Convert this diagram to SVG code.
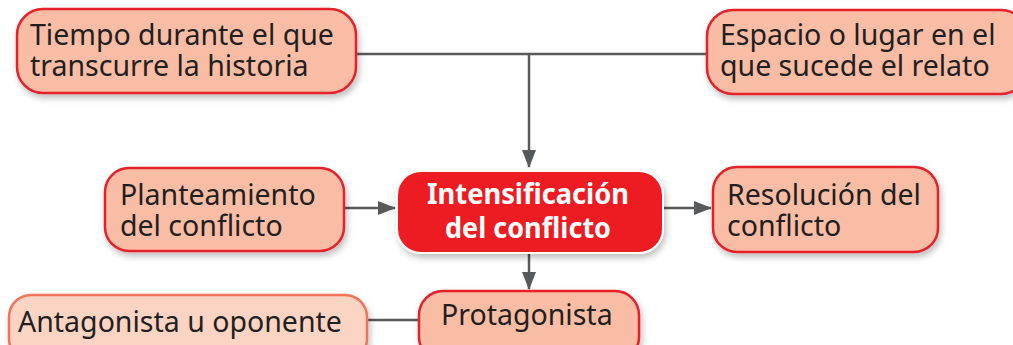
<svg xmlns="http://www.w3.org/2000/svg" width="1013" height="345" viewBox="0 0 1013 345">
  <style>
    .box { fill: #f9bca5; stroke: #e5202b; stroke-width: 2.5; }
    .light { fill: #fcd4c4; stroke: #f0735a; stroke-width: 2.5; }
    .main { fill: #ed1c24; stroke: #ffffff; stroke-width: 2; }
    .t { font-family: "Noto Sans", "Liberation Sans", sans-serif; font-size: 28.5px; fill: #231f20; }
    .tw { font-family: "Noto Sans", "Liberation Sans", sans-serif; font-size: 28px; font-weight: bold; fill: #ffffff; text-anchor: middle; }
    .c { stroke: #58595b; stroke-width: 2.5; fill: none; }
  </style>
  <defs>
    <filter id="sh" x="-10%" y="-20%" width="125%" height="150%">
      <feDropShadow dx="2" dy="4" stdDeviation="3" flood-color="#000" flood-opacity="0.25"/>
    </filter>
    <marker id="ah" markerWidth="18" markerHeight="14" refX="17" refY="7" orient="auto" markerUnits="userSpaceOnUse">
      <path d="M0,0 L18,7 L0,14 Z" fill="#58595b"/>
    </marker>
  </defs>

  <g id="connectors">
    <path class="c" d="M356,54 H707"/>
    <path class="c" d="M529,54 V167" marker-end="url(#ah)"/>
    <path class="c" d="M345,208 H395" marker-end="url(#ah)"/>
    <path class="c" d="M664,208 H711" marker-end="url(#ah)"/>
    <path class="c" d="M529,253 V289" marker-end="url(#ah)"/>
    <path class="c" d="M368,320 H419"/>
  </g>

  <g id="tiempo">
    <rect class="box" x="17" y="9" width="339" height="84" rx="26" filter="url(#sh)"/>
    <text class="t" x="30" y="45">Tiempo durante el que</text>
    <text class="t" x="30" y="76">transcurre la historia</text>
  </g>

  <g id="espacio">
    <rect class="box" x="707" y="10" width="320" height="84" rx="26" filter="url(#sh)"/>
    <text class="t" x="720" y="45">Espacio o lugar en el</text>
    <text class="t" x="720" y="76">que sucede el relato</text>
  </g>

  <g id="planteamiento">
    <rect class="box" x="105" y="168" width="239" height="83" rx="24" filter="url(#sh)"/>
    <text class="t" x="120" y="205">Planteamiento</text>
    <text class="t" x="120" y="236">del conflicto</text>
  </g>

  <g id="intensificacion">
    <rect class="main" x="397" y="171" width="266" height="82" rx="24" filter="url(#sh)"/>
    <text class="tw" x="528" y="204" textLength="202" lengthAdjust="spacingAndGlyphs">Intensificación</text>
    <text class="tw" x="528" y="238" textLength="166" lengthAdjust="spacingAndGlyphs">del conflicto</text>
  </g>

  <g id="resolucion">
    <rect class="box" x="713" y="167" width="225" height="85" rx="24" filter="url(#sh)"/>
    <text class="t" x="727" y="205">Resolución del</text>
    <text class="t" x="727" y="236">conflicto</text>
  </g>

  <g id="protagonista">
    <rect class="box" x="419" y="291" width="220" height="70" rx="24" filter="url(#sh)"/>
    <text class="t" x="441" y="325">Protagonista</text>
  </g>

  <g id="antagonista">
    <rect class="light" x="9" y="295" width="358" height="66" rx="22" filter="url(#sh)"/>
    <text class="t" x="18" y="332">Antagonista u oponente</text>
  </g>
</svg>
